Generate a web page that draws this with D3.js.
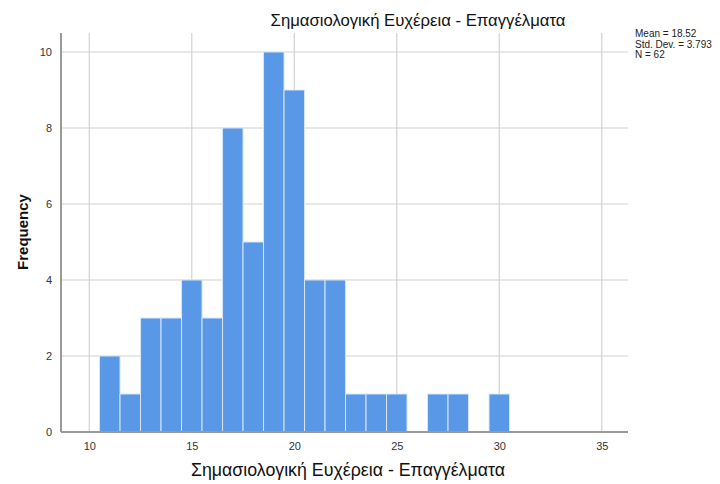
<!DOCTYPE html>
<html><head><meta charset="utf-8">
<script src="https://cdn.jsdelivr.net/npm/d3@7"></script>
<style>body{margin:0;background:#fff}svg{display:block;font-family:"Liberation Sans",Arial,sans-serif}</style>
</head><body>
<svg id="c" width="720" height="484"></svg>
<script>
const binStarts = [10.5,11.5,12.5,13.5,14.5,15.5,16.5,17.5,18.5,19.5,20.5,21.5,22.5,23.5,24.5,25.5,26.5,27.5,28.5,29.5];
const counts    = [2,1,3,3,4,3,8,5,10,9,4,4,1,1,1,0,1,1,0,1];
const binWidth = 1;
const xTicks = [10,15,20,25,30,35];
const yTicks = [0,2,4,6,8,10];
const title = "Σημασιολογική Ευχέρεια - Επαγγέλματα";
const xTitle = "Σημασιολογική Ευχέρεια - Επαγγέλματα";
const yTitle = "Frequency";
const stats = ["Mean = 18.52","Std. Dev. = 3.793","N = 62"];

const svg = d3.select("#c");
const L=61, R=628, T=33, B=432;
const x = d3.scaleLinear().domain([8.62,36.28]).range([L,R]);
const y = d3.scaleLinear().domain([0,10.5]).range([B,T]);

// gridlines
svg.append("g").selectAll("line").data(yTicks.filter(d=>d>0)).join("line")
  .attr("x1",L).attr("x2",R).attr("y1",d=>y(d)).attr("y2",d=>y(d))
  .attr("stroke","#d2d2d2").attr("stroke-width",1.2);
svg.append("g").selectAll("line").data(xTicks).join("line")
  .attr("x1",d=>x(d)).attr("x2",d=>x(d)).attr("y1",T).attr("y2",B)
  .attr("stroke","#d2d2d2").attr("stroke-width",1.2);

// bars
svg.append("g").selectAll("rect").data(binStarts.map((s,i)=>({s,c:counts[i]})).filter(d=>d.c>0)).join("rect")
  .attr("x",d=>x(d.s)).attr("width",d=>x(d.s+binWidth)-x(d.s))
  .attr("y",d=>y(d.c)).attr("height",d=>y(0)-y(d.c))
  .attr("fill","#5898e6").attr("stroke","#d6e6fa").attr("stroke-width",1);

// axes
const xa = svg.append("g").attr("transform",`translate(0,${B})`)
  .call(d3.axisBottom(x).tickValues(xTicks).tickSize(0).tickPadding(10));
const ya = svg.append("g").attr("transform",`translate(${L},0)`)
  .call(d3.axisLeft(y).tickValues(yTicks).tickSize(0).tickPadding(9));
[xa,ya].forEach(a=>{
  a.select(".domain").attr("stroke","#9a9a9a").attr("stroke-width",2);
  a.selectAll("text").attr("font-size","11px").attr("fill","#333").attr("font-family","'Liberation Sans',Arial,sans-serif");
});
xa.select(".domain").attr("d",`M${L},0H${R}`);
ya.select(".domain").attr("d",`M0,${T}V${B}`);

svg.append("text").attr("x",418).attr("y",26).attr("text-anchor","middle")
  .attr("font-size","16.7px").attr("fill","#111").text(title);
svg.append("text").attr("x",348).attr("y",476).attr("text-anchor","middle")
  .attr("font-size","17.8px").attr("fill","#111").text(xTitle);
svg.append("text").attr("transform","translate(28,232) rotate(-90)").attr("text-anchor","middle")
  .attr("font-size","15px").attr("font-weight","bold").attr("fill","#111").text(yTitle);
svg.append("g").selectAll("text").data(stats).join("text")
  .attr("x",635).attr("y",(d,i)=>37+i*10.5).attr("font-size","10px").attr("fill","#222").text(d=>d);
</script>
</body></html>
